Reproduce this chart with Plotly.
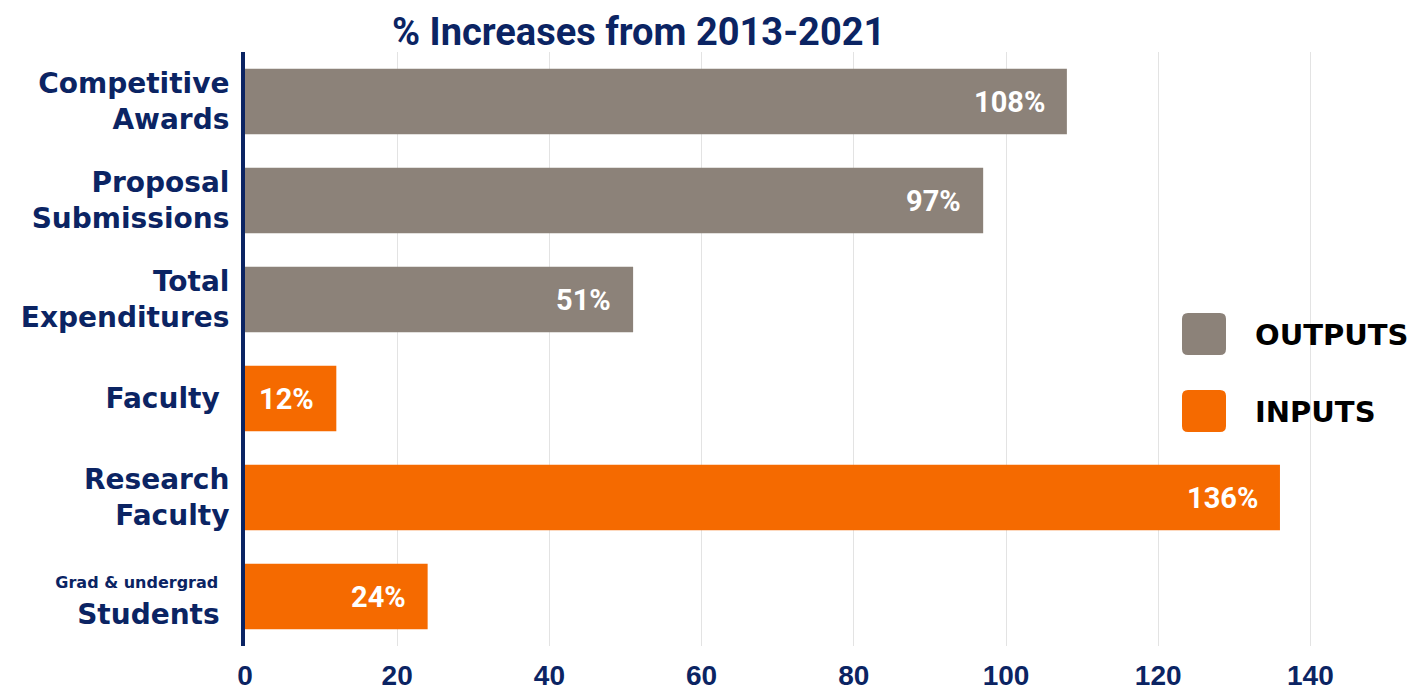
import plotly.graph_objects as go

categories = ["Competitive<br>Awards", "Proposal<br>Submissions", "Total<br>Expenditures",
              "Faculty\u00a0", "Research<br>Faculty",
              "<span style='font-size:16px'>Grad &amp; undergrad\u00a0\u00a0</span><br>Students\u00a0"]
values = [108, 97, 51, 12, 136, 24]
groups = ["OUTPUTS", "OUTPUTS", "OUTPUTS", "INPUTS", "INPUTS", "INPUTS"]
group_colors = {"OUTPUTS": "#8c8279", "INPUTS": "#f56a00"}
x_ticks = [0, 20, 40, 60, 80, 100, 120, 140]
title_text = "% Increases from 2013-2021"

NAVY = "#0b2463"
HEAVY = "DejaVu Sans, Liberation Sans, Arial, sans-serif"
W, H = 1425, 692
L, R, T, B = 245, 0, 52, 46
pw, ph = W - L - R, H - T - B

def px(x):
    return (x - L) / pw

def py(y):
    return (H - B - y) / ph

ids = list(range(len(categories)))
fig = go.Figure()
fig.add_trace(go.Bar(
    x=values, y=ids, orientation="h",
    marker=dict(color=[group_colors[g] for g in groups], line=dict(width=0)),
    width=0.66, hoverinfo="skip", showlegend=False,
))

annotations = []
for i, v in enumerate(values):
    annotations.append(dict(
        x=v, y=i, xref="x", yref="y", text=f"{v}%", showarrow=False,
        xanchor="right", yanchor="middle", xshift=-20,
        font=dict(family="Roboto, sans-serif", size=29, color="white", weight="bold"),
    ))

annotations.append(dict(
    x=px(638), y=py(32), xref="paper", yref="paper", text=f"<b>{title_text}</b>",
    showarrow=False, xanchor="center", yanchor="middle",
    font=dict(family="Roboto, sans-serif", size=38, color=NAVY),
))

def rounded(x0, y0, x1, y1, r):
    X = lambda v: px(v)
    Y = lambda v: py(v)
    return (f"M {X(x0+r)},{Y(y0)} L {X(x1-r)},{Y(y0)} Q {X(x1)},{Y(y0)} {X(x1)},{Y(y0+r)} "
            f"L {X(x1)},{Y(y1-r)} Q {X(x1)},{Y(y1)} {X(x1-r)},{Y(y1)} "
            f"L {X(x0+r)},{Y(y1)} Q {X(x0)},{Y(y1)} {X(x0)},{Y(y1-r)} "
            f"L {X(x0)},{Y(y0+r)} Q {X(x0)},{Y(y0)} {X(x0+r)},{Y(y0)} Z")

shapes = []
legend_items = [("OUTPUTS", 334), ("INPUTS", 411)]
for name, cy in legend_items:
    shapes.append(dict(type="path", xref="paper", yref="paper",
                       path=rounded(1182, cy - 21, 1226, cy + 21, 6),
                       fillcolor=group_colors[name], line=dict(width=0)))
    annotations.append(dict(
        x=px(1253), y=py(cy + 1), xref="paper", yref="paper", text=name,
        showarrow=False, xanchor="left", yanchor="middle",
        font=dict(family=HEAVY, size=29, color="black", weight="bold"),
    ))

fig.update_layout(
    width=W, height=H,
    margin=dict(l=L, r=R, t=T, b=B, pad=0, autoexpand=False),
    plot_bgcolor="white", paper_bgcolor="white",
    xaxis=dict(range=[0, pw / 7.61], tickvals=x_ticks, ticktext=[str(t) for t in x_ticks],
               showgrid=True, gridcolor="#e3e3e3", gridwidth=1, zeroline=False,
               showline=False, ticks="", ticklabelstandoff=10, automargin=False,
               tickfont=dict(family="Liberation Sans, Arial, sans-serif", size=28, color=NAVY, weight="bold")),
    yaxis=dict(tickvals=ids, ticktext=categories, range=[len(categories) - 0.5, -0.5],
               showgrid=False, zeroline=False, showline=True, linecolor=NAVY, linewidth=4,
               ticks="", ticklabelstandoff=6, automargin=False,
               tickfont=dict(family=HEAVY, size=28, color=NAVY, weight="bold")),
    annotations=annotations, shapes=shapes,
)

fig.write_html("out.html")
